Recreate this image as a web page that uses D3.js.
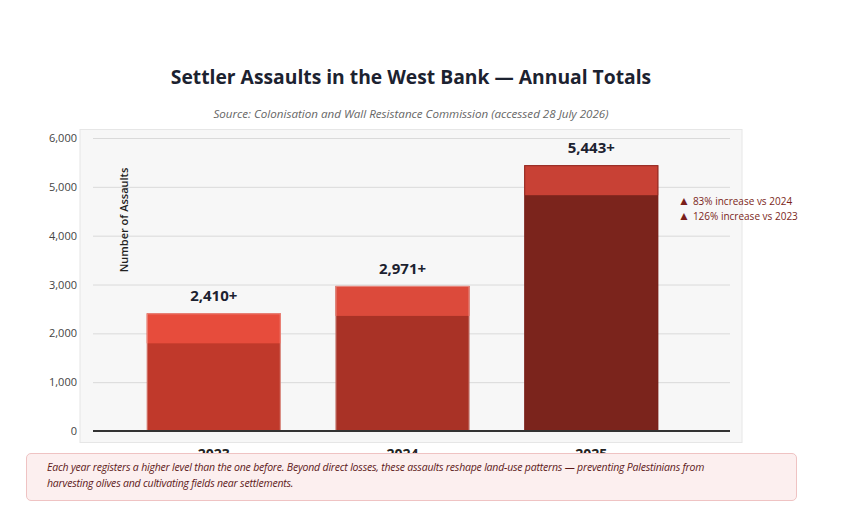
<!DOCTYPE html>
<html>
<head>
<meta charset="utf-8">
<script src="https://cdn.jsdelivr.net/npm/d3@7"></script>
<style>
  body { margin: 0; background: #fff; font-family: "Open Sans", sans-serif; }
  #wrap { position: relative; width: 849px; height: 520px; }
  #note {
    position: absolute; left: 26px; top: 453px; width: 700px; height: 36px;
    padding: 5px 49px 5px 20px; background: #fcefef; border: 1px solid #efc3c3;
    border-radius: 5px; color: #5e1a1a; font-style: italic; font-size: 10.5px;
    line-height: 16px; letter-spacing: -0.2px;
  }
</style>
</head>
<body>
<div id="wrap"></div>
<script>
const years = ["2023", "2024", "2025"];
const totals = [2410, 2971, 5443];
const valueLabels = ["2,410+", "2,971+", "5,443+"];
const baseColors = ["#c0392b", "#a93226", "#7b241c"];
const capColors = ["#e74c3c", "#dc4a3b", "#c84135"];
const yTicks = [0, 1000, 2000, 3000, 4000, 5000, 6000];
const notes = ["83% increase vs 2024", "126% increase vs 2023"];

const width = 849, height = 520;

const svg = d3.select("#wrap")
    .append("svg")
    .attr("width", width)
    .attr("height", height);

const x = d3.scaleBand()
    .domain(years)
    .range([92, 713])
    .paddingInner(0.29)
    .paddingOuter(0.29);

const y = d3.scaleLinear()
    .domain([0, 6000])
    .range([431, 138]);

// title + source
svg.append("text")
    .attr("x", 411).attr("y", 84)
    .attr("text-anchor", "middle")
    .style("font-size", "19.3px").style("font-weight", "700")
    .style("fill", "#1c2230")
    .text("Settler Assaults in the West Bank — Annual Totals");

svg.append("text")
    .attr("x", 411).attr("y", 118)
    .attr("text-anchor", "middle")
    .style("font-size", "11.6px").style("font-style", "italic")
    .style("fill", "#666")
    .text("Source: Colonisation and Wall Resistance Commission (accessed 28 July 2026)");

// plot panel
svg.append("rect")
    .attr("x", 80).attr("y", 129.5)
    .attr("width", 662).attr("height", 313)
    .attr("fill", "#f7f7f7")
    .attr("stroke", "#e6e6e6");

// gridlines and tick labels
svg.append("g")
    .attr("transform", "translate(93,0)")
    .call(d3.axisLeft(y).tickValues(yTicks).tickSize(-637).tickFormat(d3.format(",")))
    .call(g => g.select(".domain").remove())
    .call(g => g.selectAll(".tick line").attr("stroke", "#dadada"))
    .call(g => g.selectAll(".tick text")
        .attr("x", -16)
        .style("font-size", "11px")
        .style("font-family", "Open Sans, sans-serif")
        .style("fill", "#444"));

svg.append("text")
    .attr("transform", "translate(128,220) rotate(-90)")
    .attr("text-anchor", "middle")
    .style("font-size", "11px").style("font-weight", "600")
    .style("fill", "#222")
    .text("Number of Assaults");

// bars
const bars = svg.selectAll(".bar")
    .data(years)
    .enter()
    .append("g")
    .attr("class", "bar");

bars.append("rect")
    .attr("x", d => x(d))
    .attr("y", (d, i) => y(totals[i]))
    .attr("width", x.bandwidth())
    .attr("height", (d, i) => y(0) - y(totals[i]))
    .attr("fill", (d, i) => baseColors[i]);

// lighter cap on top of each bar
bars.append("rect")
    .attr("x", d => x(d))
    .attr("y", (d, i) => y(totals[i]))
    .attr("width", x.bandwidth())
    .attr("height", 30)
    .attr("fill", (d, i) => capColors[i]);

bars.append("rect")
    .attr("x", d => x(d) + 0.5)
    .attr("y", (d, i) => y(totals[i]) + 0.5)
    .attr("width", x.bandwidth() - 1)
    .attr("height", (d, i) => y(0) - y(totals[i]) - 1)
    .attr("fill", "none")
    .attr("stroke", (d, i) => i === 2 ? "rgba(120,30,25,0.6)" : "rgba(255,255,255,0.35)");

bars.append("text")
    .attr("x", d => x(d) + x.bandwidth() / 2)
    .attr("y", (d, i) => y(totals[i]) - 12)
    .attr("text-anchor", "middle")
    .style("font-size", "15px").style("font-weight", "700")
    .style("fill", "#1c2230")
    .text((d, i) => valueLabels[i]);

// baseline
svg.append("line")
    .attr("x1", 93).attr("x2", 730)
    .attr("y1", y(0)).attr("y2", y(0))
    .attr("stroke", "#333").attr("stroke-width", 2);

// year labels (partly hidden by the note box, as in the original)
svg.selectAll(".year")
    .data(years)
    .enter()
    .append("text")
    .attr("x", d => x(d) + x.bandwidth() / 2)
    .attr("y", 459)
    .attr("text-anchor", "middle")
    .style("font-size", "14px").style("font-weight", "700")
    .style("fill", "#222")
    .text(d => d);

// increase annotation
const inc = svg.selectAll(".inc")
    .data(notes)
    .enter()
    .append("text")
    .attr("x", 678)
    .attr("y", (d, i) => 205 + i * 15)
    .style("font-size", "10px")
    .style("fill", "#7b1f1a");

inc.append("tspan")
    .style("font-size", "12px")
    .text("▲");
inc.append("tspan")
    .attr("dx", 3)
    .text(d => d);

d3.select("#wrap")
    .append("div")
    .attr("id", "note")
    .text("Each year registers a higher level than the one before. Beyond direct losses, these assaults reshape land-use patterns — preventing Palestinians from harvesting olives and cultivating fields near settlements.");
</script>
</body>
</html>
